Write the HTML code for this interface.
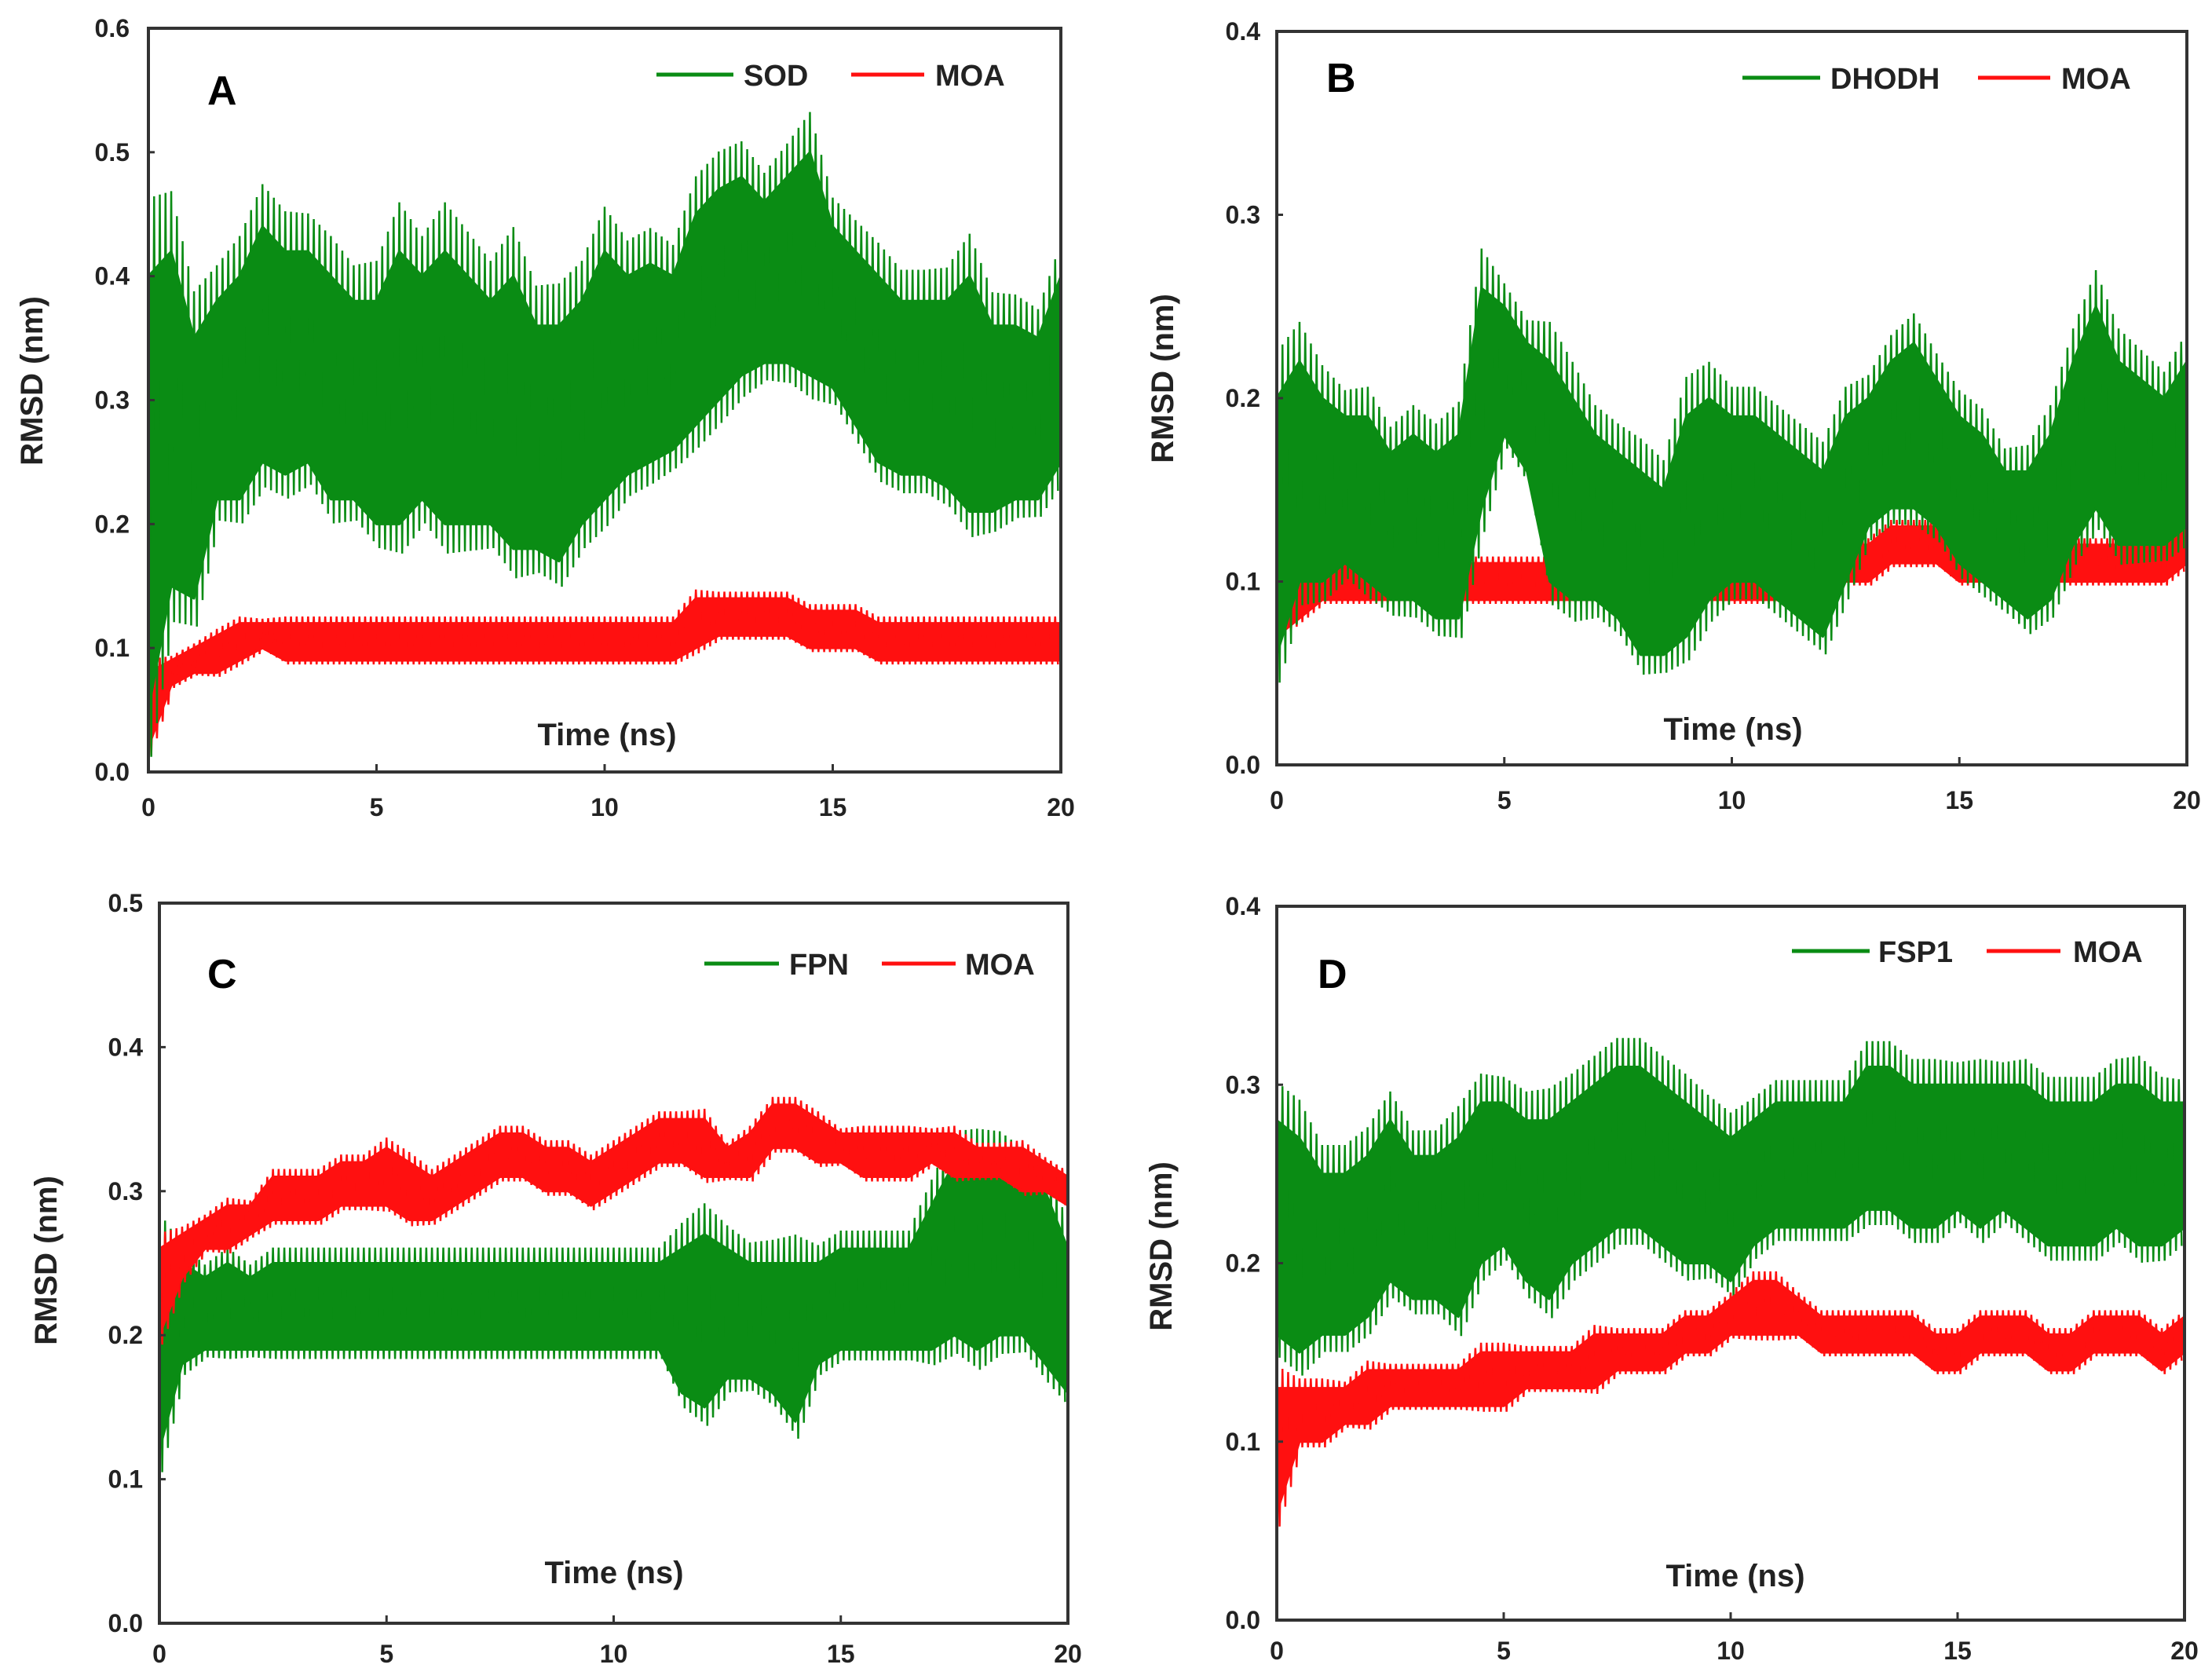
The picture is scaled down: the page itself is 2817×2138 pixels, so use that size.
<!DOCTYPE html>
<html><head><meta charset="utf-8"><style>
body{margin:0;background:#fff;}
svg{display:block;font-family:"Liberation Sans",Arial,sans-serif;font-weight:bold;}
</style></head><body>
<svg id="fig" width="2817" height="2138" viewBox="0 0 2817 2138"></svg>
<script>
const timeNs=[0,0.5,1,1.5,2,2.5,3,3.5,4,4.5,5,5.5,6,6.5,7,7.5,8,8.5,9,9.5,10,10.5,11,11.5,12,12.5,13,13.5,14,14.5,15,15.5,16,16.5,17,17.5,18,18.5,19,19.5,20];
const xTicks=[0,5,10,15,20];
// Panel A
const sodHi=[0.40,0.42,0.35,0.38,0.40,0.44,0.42,0.42,0.40,0.38,0.38,0.42,0.40,0.42,0.40,0.38,0.40,0.36,0.36,0.38,0.42,0.40,0.41,0.40,0.45,0.47,0.48,0.46,0.48,0.50,0.44,0.42,0.40,0.38,0.38,0.38,0.40,0.36,0.36,0.35,0.40];
const sodLo=[0.05,0.15,0.14,0.22,0.22,0.25,0.24,0.25,0.22,0.22,0.20,0.20,0.22,0.20,0.20,0.20,0.18,0.18,0.17,0.20,0.22,0.24,0.25,0.26,0.28,0.30,0.32,0.33,0.33,0.32,0.31,0.28,0.25,0.24,0.24,0.23,0.21,0.21,0.22,0.22,0.25];
const moaAHi=[0.08,0.09,0.10,0.11,0.12,0.12,0.12,0.12,0.12,0.12,0.12,0.12,0.12,0.12,0.12,0.12,0.12,0.12,0.12,0.12,0.12,0.12,0.12,0.12,0.14,0.14,0.14,0.14,0.14,0.13,0.13,0.13,0.12,0.12,0.12,0.12,0.12,0.12,0.12,0.12,0.12];
const moaALo=[0.02,0.07,0.08,0.08,0.09,0.10,0.09,0.09,0.09,0.09,0.09,0.09,0.09,0.09,0.09,0.09,0.09,0.09,0.09,0.09,0.09,0.09,0.09,0.09,0.10,0.11,0.11,0.11,0.11,0.10,0.10,0.10,0.09,0.09,0.09,0.09,0.09,0.09,0.09,0.09,0.09];
// Panel B
const dhodhHi=[0.20,0.22,0.20,0.19,0.19,0.17,0.18,0.17,0.18,0.26,0.25,0.23,0.22,0.20,0.18,0.17,0.16,0.15,0.19,0.20,0.19,0.19,0.18,0.17,0.16,0.19,0.20,0.22,0.23,0.21,0.19,0.18,0.16,0.16,0.18,0.22,0.25,0.22,0.21,0.20,0.22];
const dhodhLo=[0.06,0.10,0.10,0.11,0.10,0.09,0.09,0.08,0.08,0.14,0.18,0.16,0.10,0.09,0.09,0.08,0.06,0.06,0.07,0.09,0.10,0.10,0.09,0.08,0.07,0.10,0.13,0.14,0.14,0.13,0.11,0.10,0.09,0.08,0.09,0.12,0.14,0.12,0.12,0.12,0.13];
const moaBHi=[0.09,0.10,0.11,0.11,0.11,0.11,0.11,0.11,0.11,0.11,0.11,0.11,0.11,0.11,0.11,0.11,0.11,0.11,0.11,0.11,0.11,0.11,0.11,0.11,0.11,0.12,0.12,0.13,0.13,0.13,0.12,0.12,0.12,0.12,0.12,0.12,0.12,0.12,0.12,0.12,0.13];
const moaBLo=[0.07,0.08,0.09,0.09,0.09,0.09,0.09,0.09,0.09,0.09,0.09,0.09,0.09,0.09,0.09,0.09,0.09,0.09,0.09,0.09,0.09,0.09,0.09,0.09,0.09,0.10,0.10,0.11,0.11,0.11,0.10,0.10,0.10,0.10,0.10,0.10,0.10,0.10,0.10,0.10,0.11];
// Panel C
const fpnHi=[0.26,0.25,0.24,0.25,0.24,0.25,0.25,0.25,0.25,0.25,0.25,0.25,0.25,0.25,0.25,0.25,0.25,0.25,0.25,0.25,0.25,0.25,0.25,0.26,0.27,0.26,0.25,0.25,0.25,0.25,0.26,0.26,0.26,0.26,0.29,0.32,0.32,0.32,0.31,0.30,0.26];
const fpnLo=[0.12,0.18,0.19,0.19,0.19,0.19,0.19,0.19,0.19,0.19,0.19,0.19,0.19,0.19,0.19,0.19,0.19,0.19,0.19,0.19,0.19,0.19,0.19,0.16,0.15,0.17,0.17,0.16,0.14,0.18,0.19,0.19,0.19,0.19,0.19,0.20,0.19,0.20,0.20,0.18,0.16];
const moaCHi=[0.26,0.27,0.28,0.29,0.29,0.31,0.31,0.31,0.32,0.32,0.33,0.32,0.31,0.32,0.33,0.34,0.34,0.33,0.33,0.32,0.33,0.34,0.35,0.35,0.35,0.33,0.34,0.36,0.36,0.35,0.34,0.34,0.34,0.34,0.34,0.34,0.33,0.33,0.33,0.32,0.31];
const moaCLo=[0.20,0.24,0.26,0.26,0.27,0.28,0.28,0.28,0.29,0.29,0.29,0.28,0.28,0.29,0.30,0.31,0.31,0.30,0.30,0.29,0.30,0.31,0.32,0.32,0.31,0.31,0.31,0.33,0.33,0.32,0.32,0.31,0.31,0.31,0.32,0.31,0.31,0.31,0.30,0.30,0.29];
// Panel D
const fsp1Hi=[0.28,0.27,0.25,0.25,0.26,0.28,0.26,0.26,0.27,0.29,0.29,0.28,0.28,0.29,0.30,0.31,0.31,0.30,0.29,0.28,0.27,0.28,0.29,0.29,0.29,0.29,0.31,0.31,0.30,0.30,0.30,0.30,0.30,0.30,0.29,0.29,0.29,0.30,0.30,0.29,0.29];
const fsp1Lo=[0.16,0.15,0.16,0.16,0.17,0.19,0.18,0.18,0.17,0.20,0.21,0.19,0.18,0.20,0.21,0.22,0.22,0.21,0.20,0.20,0.19,0.21,0.22,0.22,0.22,0.22,0.23,0.23,0.22,0.22,0.23,0.22,0.23,0.22,0.21,0.21,0.21,0.22,0.21,0.21,0.22];
const moaDHi=[0.13,0.13,0.13,0.13,0.14,0.14,0.14,0.14,0.14,0.15,0.15,0.15,0.15,0.15,0.16,0.16,0.16,0.16,0.17,0.17,0.18,0.19,0.19,0.18,0.17,0.17,0.17,0.17,0.17,0.16,0.16,0.17,0.17,0.17,0.16,0.16,0.17,0.17,0.17,0.16,0.17];
const moaDLo=[0.06,0.10,0.10,0.11,0.11,0.12,0.12,0.12,0.12,0.12,0.12,0.13,0.13,0.13,0.13,0.14,0.14,0.14,0.15,0.15,0.16,0.16,0.16,0.16,0.15,0.15,0.15,0.15,0.15,0.14,0.14,0.15,0.15,0.15,0.14,0.14,0.15,0.15,0.15,0.14,0.15];

const NS='http://www.w3.org/2000/svg';
const svg=document.getElementById('fig');
function mk(tag,attrs,parent){const e=document.createElementNS(NS,tag);for(const k in attrs)e.setAttribute(k,attrs[k]);(parent||svg).appendChild(e);return e;}

const panels=[
 {id:'a',letter:'A',L:189,R:1351,T:36,B:983,ymax:0.6,ystep:0.1,green:[sodHi,sodLo],red:[moaAHi,moaALo],gname:'SOD',letterXY:[264,133],leg:{y:95,g:[836,934],gt:947,r:[1084,1177],rt:1191},time:[773,949],rmsd:[54,485],tickR:165,xlabY:1039,redFirst:true},
 {id:'b',letter:'B',L:1626,R:2785,T:40,B:974,ymax:0.4,ystep:0.1,green:[dhodhHi,dhodhLo],red:[moaBHi,moaBLo],gname:'DHODH',letterXY:[1689,117],leg:{y:99,g:[2219,2318],gt:2331,r:[2519,2611],rt:2625},time:[2207,942],rmsd:[1494,482],tickR:1605,xlabY:1030,redFirst:true},
 {id:'c',letter:'C',L:203,R:1360,T:1150,B:2067,ymax:0.5,ystep:0.1,green:[fpnHi,fpnLo],red:[moaCHi,moaCLo],gname:'FPN',letterXY:[264,1258],leg:{y:1227,g:[897,992],gt:1005,r:[1123,1217],rt:1229},time:[782,2016],rmsd:[72,1605],tickR:182,xlabY:2117,redFirst:false},
 {id:'d',letter:'D',L:1626,R:2782,T:1154,B:2063,ymax:0.4,ystep:0.1,green:[fsp1Hi,fsp1Lo],red:[moaDHi,moaDLo],gname:'FSP1',letterXY:[1678,1258],leg:{y:1211,g:[2282,2381],gt:2392,r:[2530,2624],rt:2640},time:[2210,2020],rmsd:[1492,1587],tickR:1605,xlabY:2113,redFirst:false}
];

function drawSeries(g,p,hi,lo,color,name){
 const xs=t=>p.L+(t/20)*(p.R-p.L);
 const ys=v=>p.B-(v/p.ymax)*(p.B-p.T);
 let d='M'+xs(timeNs[0])+','+ys(hi[0]);
 for(let i=1;i<timeNs.length;i++)d+=' L'+xs(timeNs[i])+','+ys(hi[i]);
 for(let i=timeNs.length-1;i>=0;i--)d+=' L'+xs(timeNs[i])+','+ys(lo[i]);
 d+='Z';
 const band=mk('path',{d:d,fill:color,stroke:color,'stroke-width':3,'stroke-linejoin':'round'},g);
 
 
 // zigzag spikes between hi and lo
 let z='';
 for(let i=0;i<timeNs.length-1;i++){
  const t0=timeNs[i],t1=timeNs[i+1];
  for(let k=0;k<4;k++){
   const f=k/4,t=t0+(t1-t0)*f;
   const h=hi[i]+(hi[i+1]-hi[i])*f,l=lo[i]+(lo[i+1]-lo[i])*f;
   const ex=(h-l)*0.18;
   z+=(z?' L':'M')+xs(t)+','+ys(h+ex)+' L'+xs(t+(t1-t0)/8)+','+ys(l-ex*0.6);
  }
 }
 const zz=mk('path',{d:z,fill:'none',stroke:color,'stroke-width':2.5},g);
 
 
}

panels.forEach(p=>{
 const g=mk('g',{});
 
 
 const plot=mk('g',{},g);
 
 
 if(p.redFirst){drawSeries(plot,p,p.red[0],p.red[1],'#ff1010','moa-'+p.id);drawSeries(plot,p,p.green[0],p.green[1],'#0a8c14',p.gname.toLowerCase());}
 else{drawSeries(plot,p,p.green[0],p.green[1],'#0a8c14',p.gname.toLowerCase());drawSeries(plot,p,p.red[0],p.red[1],'#ff1010','moa-'+p.id);}
 const fr=mk('rect',{x:p.L,y:p.T,width:p.R-p.L,height:p.B-p.T,fill:'none',stroke:'#333','stroke-width':4},g);
 
 
 // y ticks
 const n=Math.round(p.ymax/p.ystep);
 for(let i=0;i<=n;i++){
  const v=i*p.ystep,y=p.B-(v/p.ymax)*(p.B-p.T);
  mk('line',{x1:p.L,x2:p.L+8,y1:y,y2:y,stroke:'#333','stroke-width':3},g);
  const t=mk('text',{x:p.tickR,y:y+11,'text-anchor':'end','font-size':32,fill:'#222'},g);
  t.textContent=v.toFixed(1);
  
  
 }
 xTicks.forEach(v=>{
  const x=p.L+(v/20)*(p.R-p.L);
  mk('line',{x1:x,x2:x,y1:p.B,y2:p.B-10,stroke:'#333','stroke-width':3},g);
  const t=mk('text',{x:x,y:p.xlabY,'text-anchor':'middle','font-size':32,fill:'#222'},g);
  t.textContent=String(v);
  
  
 });
 const tl=mk('text',{x:p.time[0],y:p.time[1],'text-anchor':'middle','font-size':40,fill:'#222'},g);
 tl.textContent='Time (ns)';
 
 
 const rl=mk('text',{x:p.rmsd[0],y:p.rmsd[1],'text-anchor':'middle','font-size':40,fill:'#222',transform:'rotate(-90 '+p.rmsd[0]+' '+p.rmsd[1]+')'},g);
 rl.textContent='RMSD (nm)';
 
 
 const pl=mk('text',{x:p.letterXY[0],y:p.letterXY[1],'font-size':52,fill:'#000'},g);
 pl.textContent=p.letter;
 
 
 const lg=mk('g',{},g);
 
 
 mk('line',{x1:p.leg.g[0],x2:p.leg.g[1],y1:p.leg.y,y2:p.leg.y,stroke:'#0a8c14','stroke-width':5},lg);
 const gt=mk('text',{x:p.leg.gt,y:p.leg.y+14,'font-size':38,fill:'#222'},lg);
 gt.textContent=p.gname;
 
 
 mk('line',{x1:p.leg.r[0],x2:p.leg.r[1],y1:p.leg.y,y2:p.leg.y,stroke:'#ff1010','stroke-width':5},lg);
 const rt=mk('text',{x:p.leg.rt,y:p.leg.y+14,'font-size':38,fill:'#222'},lg);
 rt.textContent='MOA';
 
 
});
</script>
</body></html>
